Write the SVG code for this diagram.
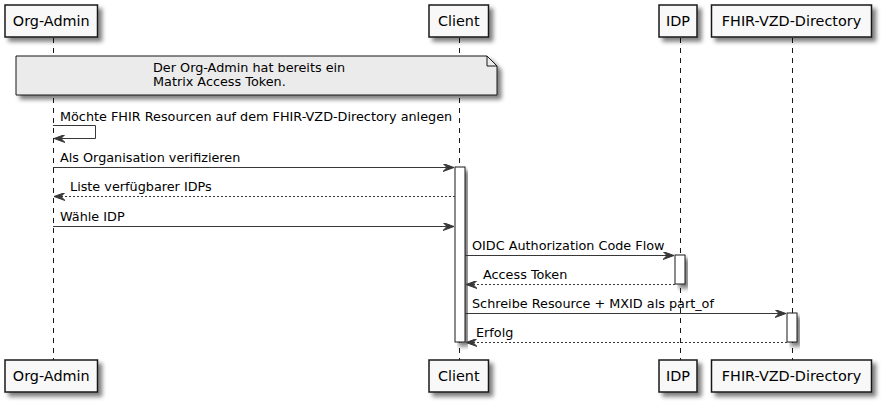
<svg xmlns="http://www.w3.org/2000/svg" width="881" height="402" viewBox="0 0 881 402">
<defs>
<filter id="sh" x="-0.2" y="-0.2" width="1.5" height="1.5">
<feGaussianBlur in="SourceAlpha" stdDeviation="2" result="b"/>
<feColorMatrix in="b" type="matrix" values="0 0 0 0 0  0 0 0 0 0  0 0 0 0 0  0 0 0 0.5 0" result="c"/>
<feOffset in="c" dx="4" dy="4" result="o"/>
<feMerge><feMergeNode in="o"/><feMergeNode in="SourceGraphic"/></feMerge>
</filter>
<marker id="ah" viewBox="0 0 11 8" refX="11" refY="4" markerWidth="11" markerHeight="8" markerUnits="userSpaceOnUse" orient="auto">
<path d="M0,0 L11,4 L0,8 L4,4 Z" fill="#383838" stroke="#383838" stroke-width="1"/>
</marker>
<style>
.part{fill:#F8F8F8;stroke:#181818;stroke-width:1.5;filter:url(#sh)}
.pt{font-family:"DejaVu Sans",sans-serif;font-size:14.4px;fill:#000;text-anchor:middle}
.life{stroke:#181818;stroke-width:1;stroke-dasharray:5,5;fill:none}
.act{fill:#FFFFFF;stroke:#181818;stroke-width:1;filter:url(#sh)}
.msg{stroke:#383838;stroke-width:1;fill:none;marker-end:url(#ah)}
.ret{stroke:#383838;stroke-width:1;fill:none;stroke-dasharray:2,2;marker-end:url(#ah)}
.mt{font-family:"DejaVu Sans",sans-serif;font-size:12.8px;fill:#000}
.note{fill:#EBEBEB;stroke:#181818;stroke-width:1;filter:url(#sh)}
</style>
</defs>
<rect width="881" height="402" fill="#FFFFFF"/>
<g id="lifelines">
<line class="life" x1="53.5" y1="38" x2="53.5" y2="360"/>
<line class="life" x1="459.5" y1="38" x2="459.5" y2="360"/>
<line class="life" x1="680.5" y1="38" x2="680.5" y2="360"/>
<line class="life" x1="792.5" y1="38" x2="792.5" y2="360"/>
</g>
<g id="Org-Admin">
<rect class="part" x="5" y="5" width="92.5" height="32"/>
<text class="pt" x="51.3" y="26">Org-Admin</text>
<rect class="part" x="5" y="360" width="92.5" height="32"/>
<text class="pt" x="51.3" y="381">Org-Admin</text>
</g>
<g id="Client">
<rect class="part" x="429" y="5" width="59.5" height="32"/>
<text class="pt" x="458.8" y="26">Client</text>
<rect class="part" x="429" y="360" width="59.5" height="32"/>
<text class="pt" x="458.8" y="381">Client</text>
<rect class="act" x="455" y="167" width="10" height="175"/>
</g>
<g id="IDP">
<rect class="part" x="659" y="5" width="38" height="32"/>
<text class="pt" x="678" y="26">IDP</text>
<rect class="part" x="659" y="360" width="38" height="32"/>
<text class="pt" x="678" y="381">IDP</text>
<rect class="act" x="675" y="255" width="10" height="29"/>
</g>
<g id="FHIR-VZD-Directory">
<rect class="part" x="711.5" y="5" width="160" height="32"/>
<text class="pt" x="791.5" y="26">FHIR-VZD-Directory</text>
<rect class="part" x="711.5" y="360" width="160" height="32"/>
<text class="pt" x="791.5" y="381">FHIR-VZD-Directory</text>
<rect class="act" x="787" y="313" width="10" height="29"/>
</g>
<g id="note">
<path class="note" d="M16,56 L487,56 L497,66 L497,95 L16,95 Z"/>
<path d="M487,56 L487,66 L497,66" fill="none" stroke="#181818" stroke-width="1"/>
<text class="mt" x="153" y="72">Der Org-Admin hat bereits ein</text>
<text class="mt" x="153" y="86">Matrix Access Token.</text>
</g>
<g id="connectors">
<path class="msg" d="M53,125.5 L95.5,125.5 L95.5,138.5 L54,138.5"/>
<text class="mt" x="60" y="121">Möchte FHIR Resourcen auf dem FHIR-VZD-Directory anlegen</text>
<line class="msg" x1="53" y1="167.5" x2="454" y2="167.5"/>
<text class="mt" x="60" y="162">Als Organisation verifizieren</text>
<line class="ret" x1="455" y1="196.5" x2="54" y2="196.5"/>
<text class="mt" x="70" y="191">Liste verfügbarer IDPs</text>
<line class="msg" x1="53" y1="226.5" x2="454" y2="226.5"/>
<text class="mt" x="60" y="221">Wähle IDP</text>
<line class="msg" x1="465" y1="255.5" x2="674" y2="255.5"/>
<text class="mt" x="472" y="250">OIDC Authorization Code Flow</text>
<line class="ret" x1="675" y1="284.5" x2="466" y2="284.5"/>
<text class="mt" x="483" y="279">Access Token</text>
<line class="msg" x1="465" y1="313.5" x2="786" y2="313.5"/>
<text class="mt" x="472" y="308">Schreibe Resource + MXID als part_of</text>
<line class="ret" x1="787" y1="342.5" x2="466" y2="342.5"/>
<text class="mt" x="476" y="337">Erfolg</text>
</g>
</svg>
